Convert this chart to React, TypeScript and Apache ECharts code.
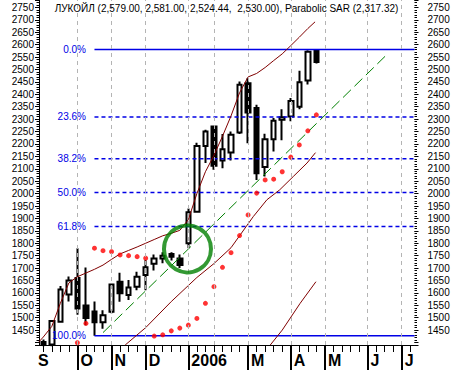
import { useEffect, useRef } from 'react';
import * as echarts from 'echarts';

const FONT = '"Liberation Sans", Arial, sans-serif';

// weekly categories (44 slots, Sep 2005 .. Jul 2006)
const weeks = Array.from({ length: 44 }, (_, i) => `W${i}`);
const monthGridIdx = [4, 8, 12, 17, 20, 24, 29, 33, 38, 42];
const monthTickIdx = [4, 8, 12, 17, 24, 29, 33, 38, 42];
const monthLabels = ['O', 'N', 'D', '2006', 'M', 'A', 'M', 'J', 'J'];
const firstMonthLabel = 'S';

// weekly OHLC
const opens = [1402, 1392, 1484, 1593, 1660, 1549, 1525, 1482, 1524, 1645, 1591, 1625, 1672, 1717, 1739, 1757, 1739, 1800, 1927, 2192, 2270, 2133, 2166, 2246, 2445, 2345, 2107, 2219, 2298, 2311, 2350, 2456, 2579];
const highs = [1412, 1490, 1628, 1666, 1780, 1702, 1565, 1530, 1638, 1681, 1652, 1685, 1732, 1755, 1764, 1764, 1755, 1940, 2205, 2257, 2272, 2240, 2250, 2452, 2465, 2358, 2241, 2305, 2340, 2385, 2495, 2578, 2581];
const lows = [1385, 1385, 1480, 1565, 1512, 1470, 1427, 1455, 1518, 1564, 1571, 1611, 1611, 1690, 1719, 1730, 1700, 1780, 1925, 2123, 2096, 2102, 2133, 2240, 2203, 2055, 2069, 2170, 2215, 2291, 2340, 2440, 2524.44];
const closes = [1390, 1487, 1614, 1650, 1537, 1499, 1482, 1510, 1634, 1598, 1622, 1665, 1703, 1739, 1750, 1746, 1712, 1925, 2192, 2250, 2112, 2179, 2237, 2439, 2327, 2082, 2219, 2294, 2308, 2373, 2449, 2572, 2530];

// Parabolic SAR
const sarIdx = [4, 5, 6, 7, 8, 9, 10, 11, 12, 13, 14, 15, 16, 17, 18, 19, 20, 21, 22, 23, 24, 25, 26, 27, 28, 29, 30, 31, 32];
const sarVals = [1399, 1477, 1780, 1770, 1766, 1753, 1750, 1746, 1740, 1426, 1431, 1447, 1458, 1470, 1497, 1558, 1625, 1703, 1762, 1831, 1914, 2002, 2055, 2058, 2088, 2147, 2196, 2253, 2317.32];

// maroon channel lines [weekIndex, price]
const upperCurve = [[-0.5, 1403], [0, 1422], [1, 1465], [2, 1558], [3, 1640], [4, 1665], [5, 1680], [6, 1695], [7, 1712], [8, 1735], [9, 1757], [10, 1771], [11, 1785], [12, 1800], [13, 1815], [14, 1830], [15, 1840], [16, 1852], [17, 1895], [18, 2000], [19, 2088], [20, 2154], [21, 2231], [22, 2313], [23, 2406], [24, 2470], [25, 2484], [26, 2508], [27, 2536], [28, 2563], [29, 2596], [30, 2630], [31, 2665], [31.85, 2692]];
const lowerCurve = [[9.6, 1390], [12, 1460], [15, 1565], [18, 1662], [20, 1718], [22, 1782], [23, 1830], [24.6, 1907], [26.2, 1975], [27.7, 2015], [29.3, 2069], [30.9, 2123], [31.9, 2165]];
const bottomCurve = [[26.6, 1390], [28, 1450], [30.1, 1558], [31.95, 1645]];
// green trend line
const trendLine = [[7, 1440], [40.05, 2553]];
// highlighted circle
const circleAt = [16.9, 1777];

// Fibonacci retracement
const fibLabels = ['0.0%', '23.6%', '38.2%', '50.0%', '61.8%', '100.0%'];
const fibValues = [2581, 2308.7, 2140.2, 2004, 1867.8, 1427];
const fibStart = 6;
const fibEnd = 43.5;

const TITLE = 'ЛУКОЙЛ (2,579.00, 2,581.00, 2,524.44,  2,530.00), Parabolic SAR (2,317.32)';

const BLUE = '#0000e6';
const MAROON = '#800000';
const GREEN = '#008000';

const yLabelFmt = (v: number) => (v % 50 === 0 && v >= 1450 && v <= 2750 ? String(v) : '');

const yMain = (pos: 'left' | 'right', margin: number) => ({
  type: 'value',
  position: pos,
  min: 1390,
  max: 2780,
  minInterval: 50,
  maxInterval: 50,
  axisLine: { show: pos === 'left', onZero: false, lineStyle: { color: '#000', width: 1 } },
  axisTick: { show: true, length: 4, lineStyle: { color: '#000', width: 1 } },
  axisLabel: { margin, fontSize: 10, color: '#000', fontFamily: FONT, formatter: yLabelFmt },
  splitLine: { show: false },
});

const yMinor = (pos: 'left' | 'right') => ({
  type: 'value',
  position: pos,
  min: 1390,
  max: 2780,
  interval: 10,
  axisLine: { show: false, onZero: false },
  axisTick: { show: true, length: 2.5, lineStyle: { color: '#000', width: 1 } },
  axisLabel: { show: false },
  splitLine: { show: false },
});

const option: any = {
  animation: false,
  backgroundColor: '#ffffff',
  title: {
    text: TITLE,
    left: 'center',
    top: 3,
    padding: 0,
    textStyle: { fontSize: 10, fontWeight: 'normal', color: '#000', fontFamily: FONT },
  },
  grid: { left: 39, right: 38.5, top: 0, bottom: 25, containLabel: false },
  xAxis: [
    {
      type: 'category',
      data: weeks,
      boundaryGap: true,
      position: 'bottom',
      axisLine: { show: true, onZero: false, lineStyle: { color: '#000', width: 1 } },
      axisTick: { show: true, interval: 0, alignWithLabel: true, length: 7, lineStyle: { color: '#000', width: 1 } },
      axisLabel: {
        show: true,
        interval: (i: number) => i === 0,
        formatter: () => firstMonthLabel,
        align: 'center',
        margin: 7,
        fontSize: 16,
        fontWeight: 'bold',
        color: '#000',
        fontFamily: FONT,
      },
      splitLine: { show: false },
    },
    {
      type: 'category',
      data: weeks,
      boundaryGap: true,
      position: 'bottom',
      axisLine: { show: false, onZero: false },
      axisTick: {
        show: true,
        interval: (i: number) => monthTickIdx.includes(i),
        alignWithLabel: true,
        length: 25,
        lineStyle: { color: '#000', width: 2 },
      },
      axisLabel: {
        show: true,
        interval: (i: number) => monthTickIdx.includes(i),
        formatter: (_v: string, i: number) => {
          const k = monthTickIdx.indexOf(i);
          return k >= 0 ? monthLabels[k] : '';
        },
        align: 'left',
        padding: [0, 0, 0, 3],
        margin: 7,
        fontSize: 16,
        fontWeight: 'bold',
        color: '#000',
        fontFamily: FONT,
      },
      splitLine: { show: false },
    },
    { type: 'value', min: -0.5, max: 43.5, show: false },
  ],
  yAxis: [yMain('left', 5), yMain('right', 13), yMinor('left'), yMinor('right')],
  series: [
    {
      type: 'line',
      xAxisIndex: 2,
      yAxisIndex: 0,
      data: [[-5, 0]],
      symbol: 'none',
      silent: true,
      z: 1,
      lineStyle: { opacity: 0 },
      markLine: {
        silent: true,
        symbol: ['none', 'none'],
        label: { show: false },
        lineStyle: { color: '#b4b4b4', type: [4, 4], width: 1 },
        data: monthGridIdx.map((i) => ({ xAxis: i })),
      },
    },
    {
      type: 'candlestick',
      xAxisIndex: 0,
      yAxisIndex: 0,
      z: 2,
      barWidth: 5,
      data: opens.map((o, i) => [o, closes[i], lows[i], highs[i]]),
      itemStyle: { color: '#ffffff', color0: '#000000', borderColor: '#000000', borderColor0: '#000000', borderWidth: 2 },
    },
    ...fibValues.map((v, k) => ({
      type: 'line',
      xAxisIndex: 2,
      yAxisIndex: 0,
      z: 3,
      silent: true,
      symbol: 'circle',
      symbolSize: 1,
      showSymbol: true,
      itemStyle: { color: 'rgba(0,0,0,0)' },
      lineStyle: { color: BLUE, width: 1.5, type: k === 0 || k === fibValues.length - 1 ? 'solid' : [4, 3] },
      label: { show: false },
      data: [
        {
          value: [fibStart, v],
          label: { show: true, position: 'left', distance: 8, formatter: fibLabels[k], color: BLUE, fontSize: 10, fontFamily: FONT },
        },
        { value: [fibEnd, v] },
      ],
    })),
    ...[upperCurve, lowerCurve, bottomCurve].map((d) => ({
      type: 'line',
      xAxisIndex: 2,
      yAxisIndex: 0,
      z: 3,
      silent: true,
      symbol: 'none',
      lineStyle: { color: MAROON, width: 1 },
      data: d,
    })),
    {
      type: 'line',
      xAxisIndex: 2,
      yAxisIndex: 0,
      z: 3,
      silent: true,
      symbol: 'none',
      lineStyle: { color: GREEN, width: 1, type: [11, 5] },
      data: trendLine,
    },
    {
      type: 'scatter',
      xAxisIndex: 2,
      yAxisIndex: 0,
      z: 4,
      silent: true,
      symbol: 'circle',
      symbolSize: 5,
      itemStyle: { color: '#ff0000' },
      data: sarIdx.map((x, i) => [x, sarVals[i]]),
    },
    {
      type: 'scatter',
      xAxisIndex: 2,
      yAxisIndex: 0,
      z: 5,
      silent: true,
      symbol: 'circle',
      symbolSize: 47,
      itemStyle: { color: 'rgba(0,0,0,0)', borderColor: GREEN, borderWidth: 4 },
      data: [circleAt],
    },
  ],
};

export default function App() {
  const ref = useRef<HTMLDivElement>(null);
  useEffect(() => {
    const chart = echarts.init(ref.current as HTMLDivElement, null, { renderer: 'svg' });
    chart.setOption(option);
    return () => chart.dispose();
  }, []);
  return (
    <div
      ref={ref}
      style={{ position: 'fixed', left: 0, top: 0, width: 453, height: 370, background: '#ffffff' }}
    />
  );
}
